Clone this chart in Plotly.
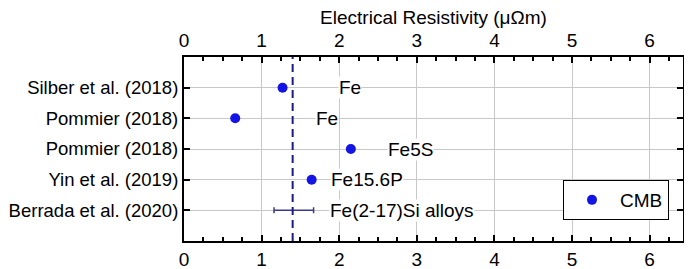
import plotly.graph_objects as go

studies = ["Silber et al. (2018)", "Pommier (2018)", "Pommier (2018)", "Yin et al. (2019)", "Berrada et al. (2020)"]
compositions = ["Fe", "Fe", "Fe5S", "Fe15.6P", "Fe(2-17)Si alloys"]
point_values = [1.27, 0.66, 2.15, 1.645]          # rows 1-4 (point estimates)
berrada_low, berrada_high = 1.16, 1.67           # row 5 (range)
label_x = [1.98, 1.69, 2.61, 1.88, 1.87]
cmb_value = 1.40
x_ticks = [0, 1, 2, 3, 4, 5, 6]

rows = list(range(1, len(studies) + 1))
FONT = "Liberation Sans, Arial, sans-serif"
fs = 19

fig = go.Figure()

fig.add_trace(go.Scatter(
    x=point_values, y=rows[:4], mode="markers", name="CMB",
    marker=dict(color="#1414e6", size=10), showlegend=True,
    cliponaxis=False,
))

mid = (berrada_low + berrada_high) / 2
fig.add_trace(go.Scatter(
    x=[mid], y=[rows[4]], mode="markers", showlegend=False,
    marker=dict(size=1, color="rgba(0,0,0,0)"),
    error_x=dict(type="data", symmetric=True, array=[(berrada_high - berrada_low) / 2],
                 color="#3a3a8c", thickness=1.5, width=3),
))

# invisible trace on top axis
fig.add_trace(go.Scatter(x=[0], y=[1], xaxis="x2", mode="markers",
                         marker=dict(opacity=0), showlegend=False, hoverinfo="skip"))

fig.add_shape(type="line", xref="x", yref="paper", x0=cmb_value, x1=cmb_value, y0=0, y1=1,
              line=dict(color="#1a1a8c", width=2, dash="8px,5px"))

for xv, yv, t in zip(label_x, rows, compositions):
    fig.add_annotation(x=xv, y=yv, text=t, showarrow=False, xanchor="left",
                       font=dict(family=FONT, size=fs, color="black"),
                       bgcolor="white", borderpad=0)

fig.update_layout(
    width=684, height=261,
    margin=dict(l=176, r=9, t=49, b=28),
    paper_bgcolor="white", plot_bgcolor="white",
    font=dict(family=FONT, size=fs, color="black"),
    title=dict(text="Electrical Resistivity (μΩm)", font=dict(size=fs), x=0.5, xref="paper",
               xanchor="center", y=1, yref="container", yanchor="top", pad=dict(t=3, b=0)),
    xaxis=dict(range=[0, 6.43], tickvals=x_ticks, ticks="inside", ticklen=6, tickwidth=2,
               tickcolor="black", showline=True, linecolor="black", linewidth=2, mirror="ticks",
               showgrid=True, gridcolor="#c8c8c8", gridwidth=1, zeroline=False, automargin=False,
               minor=dict(dtick=0.25, ticks="inside", ticklen=4, tickwidth=1.5, tickcolor="black", showgrid=False),
               tickfont=dict(size=fs), ticklabelstandoff=0),
    xaxis2=dict(range=[0, 6.43], overlaying="x", side="top", tickvals=x_ticks, ticks="",
                showline=False, showgrid=False, zeroline=False, matches="x", automargin=False,
                tickfont=dict(size=fs), ticklabelstandoff=5),
    yaxis=dict(range=[6, 0], tickvals=rows, ticktext=studies, ticks="inside", ticklen=6,
               tickwidth=2, tickcolor="black", showline=True, linecolor="black", linewidth=2,
               mirror="ticks", showgrid=True, gridcolor="#c8c8c8", gridwidth=1, zeroline=False,
               tickfont=dict(size=18.5), ticklabelstandoff=0, automargin=False),
    legend=dict(x=(563 - 184) / 499, y=(241 - 220) / 184, xanchor="left", yanchor="bottom",
                bordercolor="black", borderwidth=1, bgcolor="white", itemwidth=46,
                font=dict(size=fs)),
)

fig.write_html("out.html")
